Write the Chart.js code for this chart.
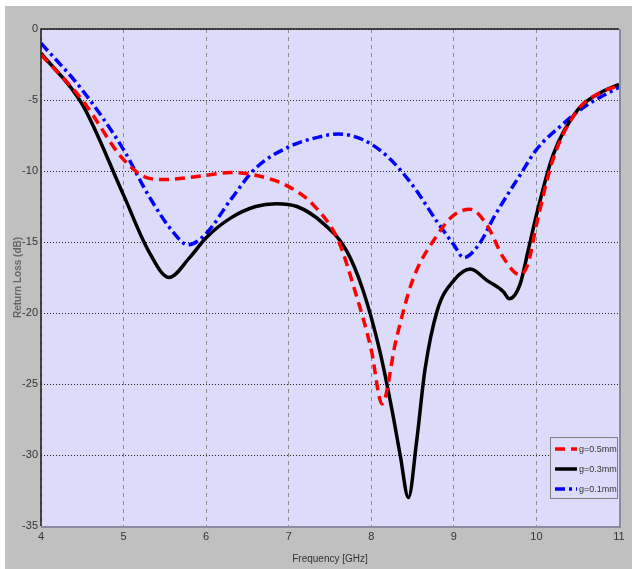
<!DOCTYPE html>
<html>
<head>
<meta charset="utf-8">
<script src="https://cdn.jsdelivr.net/npm/chart.js@4.4.1/dist/chart.umd.min.js"></script>
<style>
  html, body { margin: 0; padding: 0; background: #ffffff; }
  #wrap { position: absolute; left: 0; top: 0; width: 632px; height: 569px; }
  #bg { position: absolute; left: 5px; top: 6px; width: 627px; height: 563px; background: #c0c0c0; }
  canvas { position: absolute; left: 0; top: 0; }
</style>
</head>
<body>
<div id="wrap">
  <div id="bg"></div>
  <canvas id="canvas" width="632" height="569"></canvas>
</div>
<script>
// frequency (GHz) / return loss (dB)
const freq05 = [4.0, 4.5, 5.0, 5.3, 5.5, 6.0, 6.3, 6.6, 7.0, 7.3, 7.6, 7.8, 8.0, 8.13, 8.3, 8.5, 8.8, 9.0, 9.2, 9.4, 9.6, 9.8, 9.9, 10.0, 10.2, 10.5, 10.8, 11.0];
const loss05 = [-1.8, -5.0, -9.2, -10.5, -10.6, -10.3, -10.1, -10.3, -11.1, -12.4, -14.9, -18.4, -22.6, -26.4, -21.9, -17.7, -14.5, -13.1, -12.7, -13.8, -16.1, -17.3, -16.5, -13.8, -9.2, -5.7, -4.4, -4.0];

const freq03 = [4.0, 4.5, 5.0, 5.3, 5.55, 5.8, 6.0, 6.3, 6.6, 6.85, 7.1, 7.4, 7.7, 7.9, 8.1, 8.25, 8.35, 8.45, 8.55, 8.65, 8.8, 9.0, 9.2, 9.4, 9.6, 9.67, 9.8, 9.9, 10.0, 10.2, 10.5, 10.8, 11.0];
const loss03 = [-1.7, -5.3, -11.7, -15.6, -17.5, -16.1, -14.7, -13.3, -12.5, -12.3, -12.5, -13.6, -15.6, -18.4, -22.6, -26.8, -30.0, -33.0, -29.0, -24.0, -19.8, -17.7, -16.9, -17.7, -18.5, -19.0, -18.0, -15.6, -13.1, -8.9, -5.7, -4.4, -3.9];

const freq01 = [4.0, 4.5, 5.0, 5.3, 5.6, 5.78, 6.0, 6.3, 6.6, 7.0, 7.3, 7.6, 7.9, 8.2, 8.5, 8.8, 9.0, 9.12, 9.3, 9.5, 9.8, 10.0, 10.3, 10.6, 11.0];
const loss01 = [-1.0, -4.3, -8.5, -11.7, -14.3, -15.2, -14.4, -12.0, -9.8, -8.3, -7.7, -7.4, -7.8, -9.0, -11.0, -13.6, -15.2, -16.1, -15.2, -13.1, -10.3, -8.5, -6.8, -5.4, -4.1];

const seriesNames = ['g=0.5mm', 'g=0.3mm', 'g=0.1mm'];
const xTicks = [4, 5, 6, 7, 8, 9, 10, 11];
const yTicks = [0, -5, -10, -15, -20, -25, -30, -35];

const FONT = '"Liberation Sans Narrow", "Liberation Sans", Arial, sans-serif';

function pts(xs, ys) {
  return xs.map((x, i) => ({ x: x, y: ys[i] }));
}

// plot background + frame
const frame = {
  id: 'frame',
  beforeDraw(c) {
    const a = c.chartArea, ctx = c.ctx;
    ctx.save();
    ctx.fillStyle = '#dcdcfa';
    ctx.fillRect(a.left, a.top, a.right - a.left, a.bottom - a.top);
    ctx.restore();
  },
  afterDatasetsDraw(c) {
    const a = c.chartArea, ctx = c.ctx;
    ctx.save();
    ctx.strokeStyle = '#8a8aa0';
    ctx.lineWidth = 2;
    ctx.beginPath();
    ctx.moveTo(a.right + 1, a.top);
    ctx.lineTo(a.right + 1, a.bottom + 1);
    ctx.lineTo(a.left, a.bottom + 1);
    ctx.stroke();
    ctx.strokeStyle = '#1a1a1a';
    ctx.lineWidth = 1.5;
    ctx.beginPath();
    ctx.moveTo(a.left, a.bottom);
    ctx.lineTo(a.left, a.top);
    ctx.lineTo(a.right, a.top);
    ctx.stroke();
    ctx.restore();
  }
};

// legend box inside lower right corner
const boxLegend = {
  id: 'boxLegend',
  afterDraw(c) {
    const ctx = c.ctx;
    const x0 = 550, y0 = 437, w = 67, h = 61;
    ctx.save();
    ctx.fillStyle = '#dcdcfa';
    ctx.fillRect(x0, y0, w, h);
    ctx.strokeStyle = '#808080';
    ctx.lineWidth = 1;
    ctx.strokeRect(x0 + 0.5, y0 + 0.5, w, h);
    c.data.datasets.forEach((ds, i) => {
      const y = y0 + 12 + i * 20;
      ctx.strokeStyle = ds.borderColor;
      ctx.lineWidth = 3.5;
      ctx.setLineDash(ds.borderDash || []);
      ctx.beginPath();
      ctx.moveTo(x0 + 5, y);
      ctx.lineTo(x0 + 27, y);
      ctx.stroke();
      ctx.setLineDash([]);
      ctx.fillStyle = '#333';
      ctx.font = '9px ' + FONT;
      ctx.textBaseline = 'middle';
      ctx.fillText(ds.label, x0 + 29, y + 1);
    });
    ctx.restore();
  }
};

new Chart(document.getElementById('canvas').getContext('2d'), {
  type: 'line',
  data: {
    datasets: [
      { label: seriesNames[0], data: pts(freq05, loss05), borderColor: '#ff0000', borderWidth: 3.5, borderDash: [10, 6], pointRadius: 0, cubicInterpolationMode: 'monotone' },
      { label: seriesNames[1], data: pts(freq03, loss03), borderColor: '#000000', borderWidth: 3.5, pointRadius: 0, cubicInterpolationMode: 'monotone' },
      { label: seriesNames[2], data: pts(freq01, loss01), borderColor: '#0000ff', borderWidth: 3.5, borderDash: [10, 4, 3, 4], pointRadius: 0, cubicInterpolationMode: 'monotone' }
    ]
  },
  options: {
    responsive: false,
    animation: false,
    layout: { padding: { left: 8, top: 29, right: 13, bottom: 0 } },
    plugins: { legend: { display: false }, tooltip: { enabled: false } },
    scales: {
      x: {
        type: 'linear', min: 4, max: 11,
        afterBuildTicks: (s) => { s.ticks = xTicks.map(v => ({ value: v })); },
        afterFit: (s) => { s.height = 43; },
        ticks: { color: '#333', font: { family: FONT, size: 11 }, padding: 4 },
        grid: { color: '#8c8c8c', lineWidth: 1, drawTicks: false },
        border: { display: false, dash: [4, 4] },
        title: { display: true, text: 'Frequency [GHz]', color: '#333', font: { family: FONT, size: 10 }, padding: { top: 2 } }
      },
      y: {
        type: 'linear', min: -35, max: 0,
        afterBuildTicks: (s) => { s.ticks = yTicks.map(v => ({ value: v })); },
        afterFit: (s) => { s.width = 33; },
        ticks: { color: '#333', font: { family: FONT, size: 11 }, padding: 3 },
        grid: { color: '#222', lineWidth: 1, drawTicks: false },
        border: { display: false, dash: [1, 2] },
        title: { display: true, text: 'Return Loss (dB)', color: '#666', font: { family: 'Liberation Sans, Arial, sans-serif', size: 10, weight: 'bold' }, padding: { bottom: 2 } }
      }
    }
  },
  plugins: [frame, boxLegend]
});
</script>
</body>
</html>
